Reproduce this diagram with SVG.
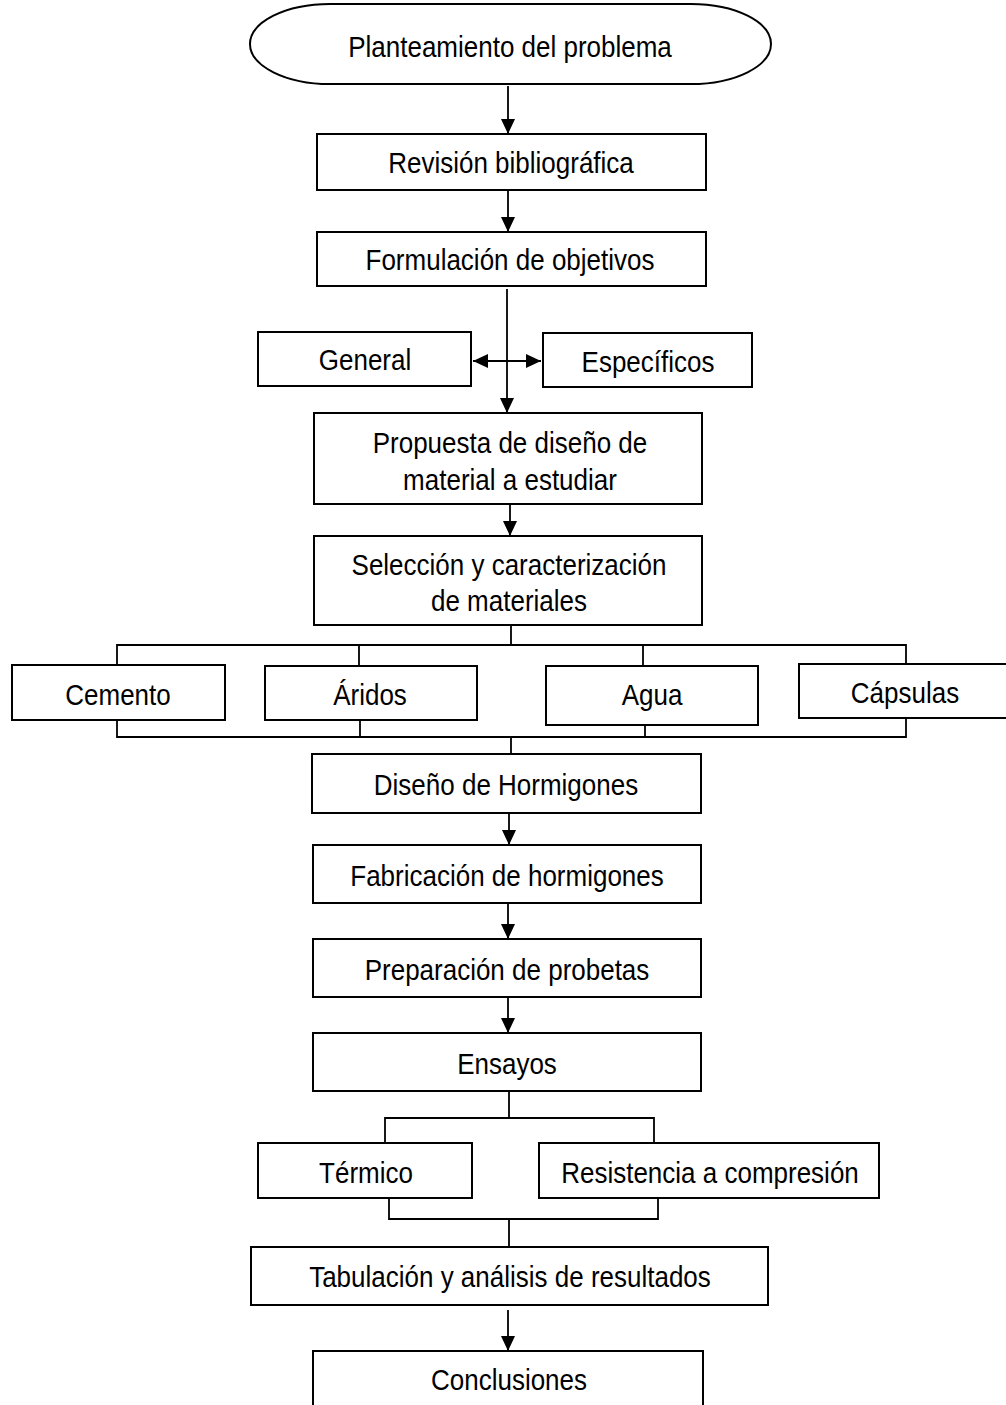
<svg xmlns="http://www.w3.org/2000/svg" width="1006" height="1405" viewBox="0 0 1006 1405">
<style>
.n{fill:#fff;stroke:#000;stroke-width:2}
.t{font-family:"Liberation Sans",Arial,sans-serif;font-size:26px;fill:#000;text-anchor:middle}
.c{fill:none;stroke:#000;stroke-width:1.8}
</style>
<defs>
<marker id="ah" markerUnits="userSpaceOnUse" markerWidth="15" markerHeight="14" refX="15" refY="7" orient="auto-start-reverse" viewBox="0 0 15 14">
<path d="M0,0 L15,7 L0,14 z" fill="#000"/>
</marker>
</defs>
<rect width="1006" height="1405" fill="#fff"/>
<g id="connectors">
<line class="c" x1="508" y1="86" x2="508" y2="134" marker-end="url(#ah)"/>
<line class="c" x1="508" y1="190" x2="508" y2="232" marker-end="url(#ah)"/>
<line class="c" x1="507" y1="289" x2="507" y2="413" marker-end="url(#ah)"/>
<line class="c" x1="473" y1="361" x2="541" y2="361" marker-start="url(#ah)" marker-end="url(#ah)"/>
<line class="c" x1="510" y1="504" x2="510" y2="536" marker-end="url(#ah)"/>
<path class="c" d="M511,625 V645 M117,665 V645 H906 V664 M359,645 V666 M643,645 V666"/>
<path class="c" d="M117,720 V737 H906 V718 M360,720 V737 M645,725 V737 M511,737 V754"/>
<line class="c" x1="509" y1="813" x2="509" y2="845" marker-end="url(#ah)"/>
<line class="c" x1="508" y1="903" x2="508" y2="939" marker-end="url(#ah)"/>
<line class="c" x1="508" y1="997" x2="508" y2="1033" marker-end="url(#ah)"/>
<path class="c" d="M509,1091 V1118 M385,1143 V1118 H654 V1143"/>
<path class="c" d="M389,1198 V1219 H658 V1198 M509,1219 V1247"/>
<line class="c" x1="508" y1="1310" x2="508" y2="1351" marker-end="url(#ah)"/>
</g>
<g id="n-planteamiento"><rect class="n" x="250" y="4" width="521" height="80" rx="80" ry="40"/><text class="t" transform="translate(510 57) scale(1 1.12)">Planteamiento del problema</text></g>
<g id="n-revision"><rect class="n" x="317" y="134" width="389" height="56"/><text class="t" transform="translate(511 173) scale(1 1.12)">Revisión bibliográfica</text></g>
<g id="n-formulacion"><rect class="n" x="317" y="232" width="389" height="54"/><text class="t" transform="translate(510 270) scale(1 1.12)">Formulación de objetivos</text></g>
<g id="n-general"><rect class="n" x="258" y="332" width="213" height="54"/><text class="t" transform="translate(365 370) scale(1 1.12)">General</text></g>
<g id="n-especificos"><rect class="n" x="543" y="333" width="209" height="54"/><text class="t" transform="translate(648 372) scale(1 1.12)">Específicos</text></g>
<g id="n-propuesta"><rect class="n" x="314" y="413" width="388" height="91"/><text class="t" transform="translate(510 453) scale(1 1.12)">Propuesta de diseño de</text><text class="t" transform="translate(510 490) scale(1 1.12)">material a estudiar</text></g>
<g id="n-seleccion"><rect class="n" x="314" y="536" width="388" height="89"/><text class="t" transform="translate(509 575) scale(1 1.12)">Selección y caracterización</text><text class="t" transform="translate(509 611) scale(1 1.12)">de materiales</text></g>
<g id="n-cemento"><rect class="n" x="12" y="665" width="213" height="55"/><text class="t" transform="translate(118 705) scale(1 1.12)">Cemento</text></g>
<g id="n-aridos"><rect class="n" x="265" y="666" width="212" height="54"/><text class="t" transform="translate(370 705) scale(1 1.12)">Áridos</text></g>
<g id="n-agua"><rect class="n" x="546" y="666" width="212" height="59"/><text class="t" transform="translate(652 705) scale(1 1.12)">Agua</text></g>
<g id="n-capsulas"><rect class="n" x="799" y="664" width="212" height="54"/><text class="t" transform="translate(905 703) scale(1 1.12)">Cápsulas</text></g>
<g id="n-diseno"><rect class="n" x="312" y="754" width="389" height="59"/><text class="t" transform="translate(506 795) scale(1 1.12)">Diseño de Hormigones</text></g>
<g id="n-fabricacion"><rect class="n" x="313" y="845" width="388" height="58"/><text class="t" transform="translate(507 886) scale(1 1.12)">Fabricación de hormigones</text></g>
<g id="n-preparacion"><rect class="n" x="313" y="939" width="388" height="58"/><text class="t" transform="translate(507 980) scale(1 1.12)">Preparación de probetas</text></g>
<g id="n-ensayos"><rect class="n" x="313" y="1033" width="388" height="58"/><text class="t" transform="translate(507 1074) scale(1 1.12)">Ensayos</text></g>
<g id="n-termico"><rect class="n" x="258" y="1143" width="214" height="55"/><text class="t" transform="translate(366 1183) scale(1 1.12)">Térmico</text></g>
<g id="n-resistencia"><rect class="n" x="539" y="1143" width="340" height="55"/><text class="t" transform="translate(710 1183) scale(1 1.12)">Resistencia a compresión</text></g>
<g id="n-tabulacion"><rect class="n" x="251" y="1247" width="517" height="58"/><text class="t" transform="translate(510 1287) scale(1 1.12)">Tabulación y análisis de resultados</text></g>
<g id="n-conclusiones"><rect class="n" x="313" y="1351" width="390" height="70"/><text class="t" transform="translate(509 1390) scale(1 1.12)">Conclusiones</text></g>
</svg>
